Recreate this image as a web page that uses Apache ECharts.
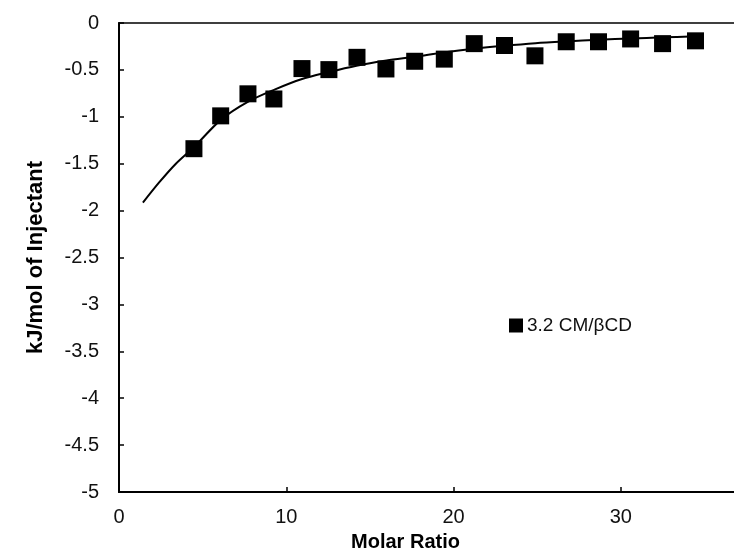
<!DOCTYPE html>
<html>
<head>
<meta charset="utf-8">
<script src="https://cdn.jsdelivr.net/npm/echarts@6/dist/echarts.min.js"></script>
<style>
  html, body { margin: 0; padding: 0; background: #fff; }
  #chart { width: 734px; height: 555px; }
</style>
</head>
<body>
<div id="chart"></div>
<script>
  // measured points (molar ratio, kJ/mol)
  var ratioPts = [4.48, 6.08, 7.71, 9.26, 10.94, 12.55, 14.23, 15.96, 17.68, 19.45,
                  21.24, 23.05, 24.87, 26.74, 28.67, 30.59, 32.5, 34.47];
  var heatPts = [-1.34, -0.99, -0.755, -0.81, -0.486, -0.497, -0.366, -0.49, -0.408, -0.385,
                 -0.22, -0.24, -0.35, -0.2, -0.2, -0.17, -0.22, -0.19];
  // fitted curve
  var fitX = [1.43, 2.4, 3.4, 4.5, 6.1, 7.7, 9.3, 10.9, 12.5, 14.2, 16, 17.7, 19.4,
              21.2, 23, 24.9, 26.7, 28.7, 30.6, 32.5, 34.5];
  var fitY = [-1.915, -1.7, -1.5, -1.32, -1.03, -0.84, -0.71, -0.6, -0.525, -0.455, -0.4, -0.36, -0.315,
              -0.275, -0.243, -0.215, -0.196, -0.178, -0.165, -0.153, -0.142];
  var seriesName = '3.2 CM/βCD';

  var pts = ratioPts.map(function (x, i) { return [x, heatPts[i]]; });
  var fit = fitX.map(function (x, i) { return [x, fitY[i]]; });

  var charts = echarts.init(document.getElementById('chart'));
  var font = 'Liberation Sans, Arial, sans-serif';
  var option = {
    animation: false,
    textStyle: { fontFamily: font },
    legend: {
      data: [seriesName],
      left: 504,
      top: 311,
      icon: 'rect',
      itemWidth: 14,
      itemHeight: 14,
      itemGap: 4,
      textStyle: { fontSize: 19, color: '#111', fontFamily: font, padding: [0, 0, 0, -1] }
    },
    grid: {
      left: 119,
      top: 23,
      width: 669,
      height: 469,
      outerBoundsMode: 'none',
      show: true,
      borderColor: '#000',
      borderWidth: 1.5
    },
    xAxis: {
      type: 'value',
      min: 0,
      max: 40,
      interval: 10,
      name: 'Molar Ratio',
      nameLocation: 'middle',
      nameGap: 40,
      nameTextStyle: { fontSize: 20, fontWeight: 'bold', color: '#000', padding: [0, 0, 0, -96] },
      axisLine: { onZero: false, lineStyle: { color: '#000', width: 2 } },
      axisTick: { inside: true, length: 5, lineStyle: { color: '#000', width: 1.5 } },
      axisLabel: { fontSize: 20, color: '#111', margin: 15 },
      splitLine: { show: false }
    },
    yAxis: {
      type: 'value',
      min: -5,
      max: 0,
      interval: 0.5,
      name: 'kJ/mol of Injectant',
      nameLocation: 'middle',
      nameGap: 72,
      nameTextStyle: { fontSize: 22, fontWeight: 'bold', color: '#000' },
      axisLine: { onZero: false, lineStyle: { color: '#000', width: 2 } },
      axisTick: { inside: true, length: 5, lineStyle: { color: '#000', width: 1.5 } },
      axisLabel: { fontSize: 20, color: '#111', margin: 20 },
      splitLine: { show: false }
    },
    series: [
      {
        name: 'fit',
        type: 'line',
        data: fit,
        smooth: 0.3,
        showSymbol: false,
        lineStyle: { color: '#000', width: 2 },
        z: 2
      },
      {
        name: seriesName,
        type: 'scatter',
        data: pts,
        symbol: 'rect',
        symbolSize: 17,
        itemStyle: { color: '#000', opacity: 1 },
        z: 3
      }
    ]
  };
  charts.setOption(option);
</script>
</body>
</html>
